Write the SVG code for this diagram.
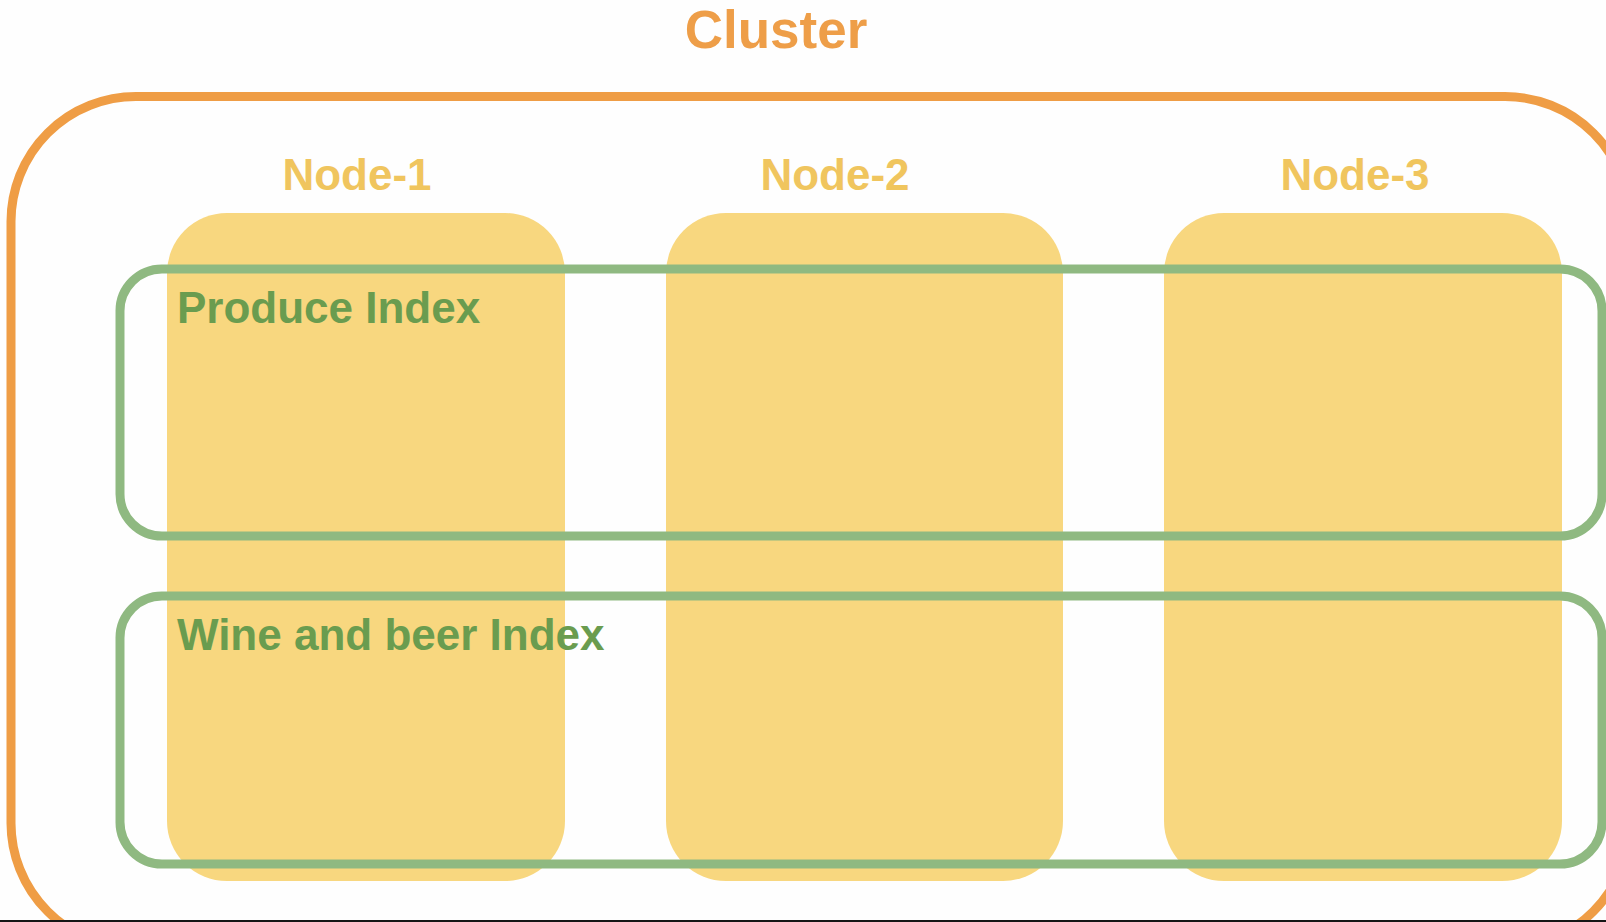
<svg xmlns="http://www.w3.org/2000/svg" width="1606" height="922" viewBox="0 0 1606 922">
  <style>
    .node-box { fill: #F8D77F; }
    .node-label { font-family: "Liberation Sans", Arial, sans-serif; font-weight: bold; font-size: 44px; fill: #F0C55E; text-anchor: middle; }
    .index-box { fill: none; stroke: #8FB981; stroke-width: 9; }
    .index-label { font-family: "Liberation Sans", Arial, sans-serif; font-weight: bold; font-size: 44px; fill: #6A9C4F; }
    .cluster-box { fill: none; stroke: #EF9D45; stroke-width: 9; }
    .cluster-label { font-family: "Liberation Sans", Arial, sans-serif; font-weight: bold; font-size: 53px; fill: #EE9E48; text-anchor: middle; }
  </style>
  <rect x="0" y="0" width="1606" height="922" fill="#FEFEFE"/>

  <g id="cluster">
    <rect class="cluster-box" x="11" y="96.5" width="1619" height="851.5" rx="125" ry="125"/>
    <text class="cluster-label" x="776" y="48">Cluster</text>
  </g>

  <g id="node-1">
    <rect class="node-box" x="167" y="213" width="398" height="668" rx="60" ry="60"/>
    <text class="node-label" x="357" y="190">Node-1</text>
  </g>
  <g id="node-2">
    <rect class="node-box" x="666" y="213" width="397" height="668" rx="60" ry="60"/>
    <text class="node-label" x="835" y="190">Node-2</text>
  </g>
  <g id="node-3">
    <rect class="node-box" x="1164" y="213" width="398" height="668" rx="60" ry="60"/>
    <text class="node-label" x="1355" y="190">Node-3</text>
  </g>

  <g id="produce-index">
    <rect class="index-box" x="120" y="269" width="1482" height="267" rx="42" ry="42"/>
    <text class="index-label" x="177" y="323">Produce Index</text>
  </g>
  <g id="wine-and-beer-index">
    <rect class="index-box" x="120" y="596" width="1482" height="268" rx="42" ry="42"/>
    <text class="index-label" x="177" y="650">Wine and beer Index</text>
  </g>

  <g id="connectors"></g>

  <rect x="0" y="920" width="1606" height="2" fill="#151515"/>
</svg>
